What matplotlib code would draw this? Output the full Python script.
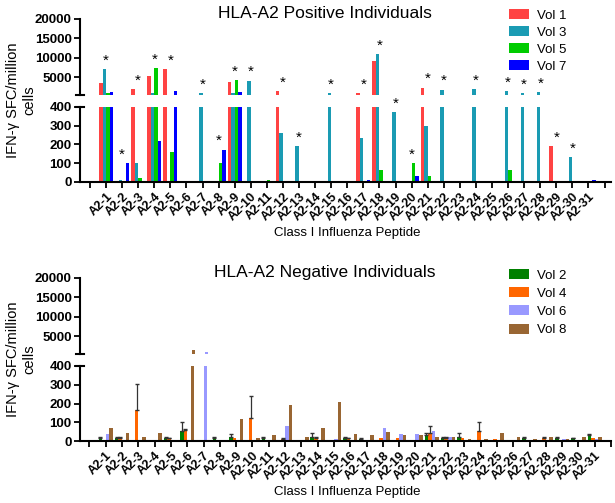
import numpy as np
import matplotlib.pyplot as plt

plt.rcParams['font.family'] = ['Liberation Sans', 'DejaVu Sans']

peptides = ['A2-' + str(i) for i in range(1, 32)]

# HLA-A2 positive volunteers, IFN-g SFC per million cells
vol1 = [3500, 0, 2000, 5300, 7100, 0, 0, 0, 3800, 0, 0, 1500, 0, 0, 0, 0,
        1000, 9200, 0, 0, 2300, 0, 0, 0, 0, 0, 0, 0, 190, 0, 0]
vol3 = [7000, 12, 100, 800, 0, 0, 1000, 0, 900, 4100, 0, 260, 190, 0, 900, 0,
        233, 11000, 375, 0, 300, 1800, 0, 2000, 0, 1400, 900, 1100, 0, 133, 0]
vol5 = [800, 0, 20, 7300, 160, 0, 0, 100, 4200, 0, 10, 0, 0, 0, 0, 0,
        6, 62, 6, 103, 30, 0, 0, 0, 0, 62, 0, 0, 0, 0, 0]
vol7 = [1300, 100, 0, 220, 1400, 0, 0, 173, 1200, 0, 0, 0, 0, 0, 0, 0,
        10, 0, 0, 32, 0, 0, 0, 0, 8, 0, 0, 0, 0, 0, 10]
# peptides marked with an asterisk
stars = [1, 2, 3, 4, 5, 7, 8, 9, 10, 12, 13, 15, 17, 18, 19, 20, 21, 22, 24,
         26, 27, 28, 29, 30]

# HLA-A2 negative volunteers
vol2 = [14, 16, 0, 0, 15, 53, 0, 14, 21, 0, 15, 0, 0, 20, 0, 15, 12, 0, 0, 0,
        32, 14, 21, 0, 0, 0, 16, 0, 16, 14, 32]
vol2_err = [6, 5, 0, 0, 5, 47, 0, 5, 18, 0, 5, 0, 0, 24, 0, 4, 4, 0, 0, 0,
            10, 5, 23, 0, 0, 0, 4, 0, 4, 4, 8]
vol4 = [0, 16, 164, 0, 15, 57, 0, 0, 16, 123, 0, 12, 0, 16, 0, 15, 0, 14, 14, 0,
        44, 18, 16, 53, 12, 0, 0, 16, 0, 0, 18]
vol4_err = [0, 3, 138, 0, 3, 5, 0, 0, 0, 117, 0, 3, 0, 3, 0, 3, 0, 0, 0, 0,
            38, 3, 0, 50, 0, 0, 0, 3, 0, 0, 0]
vol6 = [40, 0, 0, 0, 0, 0, 900, 0, 0, 0, 0, 80, 0, 0, 10, 0, 0, 70, 40, 40,
        53, 21, 0, 0, 0, 0, 0, 0, 12, 0, 12]
vol8 = [71, 41, 21, 41, 0, 1500, 0, 0, 119, 18, 30, 190, 20, 70, 210, 40, 32, 50,
        32, 30, 21, 21, 12, 12, 43, 21, 12, 21, 12, 21, 21]

pos_series = [vol1, vol3, vol5, vol7]
pos_labels = ['Vol 1', 'Vol 3', 'Vol 5', 'Vol 7']
pos_colors = ['#FF4343', '#1A9BB3', '#00CC00', '#0000FF']

neg_series = [vol2, vol4, vol6, vol8]
neg_errs = [vol2_err, vol4_err, None, None]
neg_labels = ['Vol 2', 'Vol 4', 'Vol 6', 'Vol 8']
neg_colors = ['#008000', '#FF6600', '#9999FF', '#996633']

W, H = 615, 503
fig = plt.figure(figsize=(W / 100, H / 100), dpi=100)


def box(x0, y0, x1, y1):
    return [x0 / W, 1 - y1 / H, (x1 - x0) / W, (y1 - y0) / H]


x = np.arange(1, 32)
width = 0.22


def panel(y_top, series, labels, colors, errs, xlim, title, leg_y, leg_gap):
    ax_hi = fig.add_axes(box(80, y_top, 611, y_top + 76))
    ax_lo = fig.add_axes(box(80, y_top + 88, 611, y_top + 163))
    handles = []
    for i in range(4):
        xs = x + (i - 1.5) * width
        for ax in (ax_hi, ax_lo):
            b = ax.bar(xs, series[i], width, color=colors[i], edgecolor='none')
        handles.append(b)
        if errs is not None and errs[i] is not None:
            e = np.array(errs[i])
            m = e > 0
            ax_lo.errorbar(xs[m], np.array(series[i])[m], yerr=[np.zeros(m.sum()), e[m]],
                           fmt='none', ecolor='#333333', elinewidth=0.9, capsize=1.2)

    ax_hi.set_ylim(400, 20000)
    ax_hi.set_yticks([5000, 10000, 15000, 20000])
    ax_lo.set_ylim(0, 400)
    ax_lo.set_yticks([0, 100, 200, 300, 400])
    for ax in (ax_hi, ax_lo):
        ax.set_xlim(*xlim)
        ax.spines['top'].set_visible(False)
        ax.spines['right'].set_visible(False)
        ax.spines['left'].set_linewidth(1.5)
        ax.spines['bottom'].set_linewidth(1.5)
        ax.tick_params(direction='out', width=1.3, length=4, labelsize=9.5, pad=2)
        for lab in ax.get_yticklabels():
            lab.set_fontweight('bold')
    ax_hi.spines['bottom'].set_visible(False)
    ax_hi.set_xticks([])
    # break marks on the y axis
    ax_hi.plot([-0.008, 0.008], [0, 0], transform=ax_hi.transAxes, color='k', lw=1.5, clip_on=False)
    ax_lo.plot([-0.008, 0.008], [1, 1], transform=ax_lo.transAxes, color='k', lw=1.5, clip_on=False)

    ax_lo.set_xticks(np.arange(0, 33))
    ax_lo.set_xticklabels([''] + peptides + [''], rotation=45, ha='right',
                          rotation_mode='anchor', fontweight='bold', fontsize=9)

    fig.text(21 / W, 1 - (y_top + 81) / H, 'IFN-γ SFC/million\ncells', rotation=90,
             ha='center', va='center', fontsize=10.5, multialignment='center')
    fig.text(325 / W, 1 - (y_top - 6) / H, title, ha='center', va='center', fontsize=12.5)
    fig.text(347 / W, 1 - (y_top + 214) / H, 'Class I Influenza Peptide',
             ha='center', va='center', fontsize=9.5)
    ax_hi.legend(handles, labels, loc='upper left', bbox_to_anchor=(509 / W, 1 - leg_y / H),
                 bbox_transform=fig.transFigure, frameon=False, fontsize=9.5,
                 handlelength=1.5, handleheight=0.8, handletextpad=0.6,
                 labelspacing=leg_gap, borderpad=0, borderaxespad=0)
    return ax_hi, ax_lo


top_hi, top_lo = panel(19, pos_series, pos_labels, pos_colors, None,
                       (-0.62, 32.4), 'HLA-A2 Positive Individuals', 9, 0.33)
bot_hi, bot_lo = panel(278, neg_series, neg_labels, neg_colors, neg_errs,
                       (-0.58, 31.7), 'HLA-A2 Negative Individuals', 269, 0.42)

# asterisks above significant responses
for k in stars:
    top = max(s[k - 1] for s in pos_series)
    ax = top_hi if top > 400 else top_lo
    ax.annotate('*', (k, top), xytext=(0, 1), textcoords='offset points',
                ha='center', va='bottom', fontsize=11, annotation_clip=False)

plt.savefig('out.png', dpi=100)
